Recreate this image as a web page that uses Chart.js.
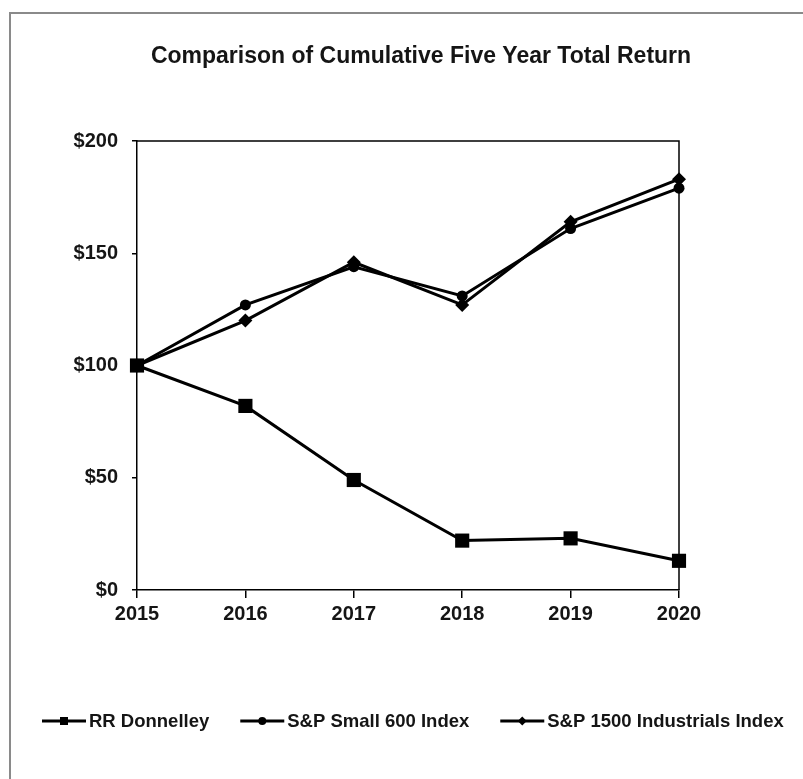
<!DOCTYPE html>
<html>
<head>
<meta charset="utf-8">
<script src="https://cdn.jsdelivr.net/npm/chart.js@4.4.0/dist/chart.umd.min.js"></script>
<style>
    html, body { margin: 0; padding: 0; background: #fff; }
    #wrap { width: 803px; height: 779px; position: relative; }
</style>
</head>
<body>
<div id="wrap"><canvas id="myChart" width="803" height="779"></canvas></div>
<script>
// data
var years = ['2015', '2016', '2017', '2018', '2019', '2020'];
var rrDonnelley = [100, 82, 49, 22, 23, 13];
var spSmall600 = [100, 127, 144, 131, 161, 179];
var sp1500Industrials = [100, 120, 146, 127, 164, 183];
var yMin = 0, yMax = 200, yStep = 50;
var titleText = 'Comparison of Cumulative Five Year Total Return';
var seriesNames = ['RR Donnelley', 'S&P Small 600 Index', 'S&P 1500 Industrials Index'];

var FONT = '"Liberation Sans", Arial, sans-serif';

function markerPath(c, style, x, y, r) {
    c.beginPath();
    if (style === 'rect') {
        c.rect(x - r, y - r, 2 * r, 2 * r);
    } else if (style === 'circle') {
        c.arc(x, y, r, 0, Math.PI * 2);
    } else {
        c.moveTo(x, y - r); c.lineTo(x + r, y); c.lineTo(x, y + r); c.lineTo(x - r, y); c.closePath();
    }
    c.fill();
}

// frame, plot box, title and legend
var decorations = {
    id: 'decorations',
    beforeDatasetsDraw: function (chart) {
        var c = chart.ctx, a = chart.chartArea;
        c.save();
        c.strokeStyle = '#000';
        c.lineWidth = 1.5;
        c.beginPath();
        c.moveTo(a.left, a.top);
        c.lineTo(a.right, a.top);
        c.lineTo(a.right, a.bottom);
        c.stroke();
        c.restore();
    },
    afterDraw: function (chart) {
        var c = chart.ctx;
        c.save();
        // outer border of the picture
        c.strokeStyle = '#8a8a8a';
        c.lineWidth = 2;
        c.beginPath();
        c.moveTo(10, 779); c.lineTo(10, 13); c.lineTo(803, 13);
        c.stroke();

        // title
        c.fillStyle = '#151515';
        c.font = 'bold 23px ' + FONT;
        c.textAlign = 'center';
        c.textBaseline = 'middle';
        c.fillText(titleText, 421, 57);

        // legend: line + marker, then label
        var styles = ['rect', 'circle', 'diamond'];
        var sizes = [4, 4, 4.5];
        var x = 42, y = 721;
        c.font = 'bold 18.5px ' + FONT;
        c.textAlign = 'left';
        chart.data.datasets.forEach(function (ds, i) {
            c.strokeStyle = '#000';
            c.lineWidth = 3;
            c.beginPath();
            c.moveTo(x, y); c.lineTo(x + 44, y);
            c.stroke();
            c.fillStyle = '#000';
            markerPath(c, styles[i], x + 22, y, sizes[i]);
            c.fillStyle = '#151515';
            c.fillText(ds.label, x + 47, y + 1);
            x += 47 + c.measureText(ds.label).width + 31;
        });
        c.restore();
    }
};

var dts = [
    {
        label: seriesNames[0],
        data: rrDonnelley,
        borderColor: '#000',
        backgroundColor: '#000',
        borderWidth: 3,
        pointStyle: 'rect',
        pointRadius: 10,
        pointBorderWidth: 0
    },
    {
        label: seriesNames[1],
        data: spSmall600,
        borderColor: '#000',
        backgroundColor: '#000',
        borderWidth: 3,
        pointStyle: 'circle',
        pointRadius: 5.5,
        pointBorderWidth: 0
    },
    {
        label: seriesNames[2],
        data: sp1500Industrials,
        borderColor: '#000',
        backgroundColor: '#000',
        borderWidth: 3,
        pointStyle: 'rectRot',
        pointRadius: 7,
        pointBorderWidth: 0
    }
];

var tickFont = { family: FONT, size: 20, weight: 'bold' };

var ctx = document.getElementById('myChart').getContext('2d');
var mychart = new Chart(ctx, {
    type: 'line',
    data: { labels: years, datasets: dts },
    options: {
        responsive: false,
        animation: false,
        clip: false,
        layout: { padding: { left: 40, right: 124, top: 141, bottom: 129 } },
        plugins: {
            legend: { display: false },
            title: { display: false },
            tooltip: { enabled: false }
        },
        elements: { line: { tension: 0, fill: false } },
        scales: {
            x: {
                type: 'category',
                offset: false,
                grid: { drawOnChartArea: false, tickLength: 8, color: '#000', lineWidth: 1.5 },
                border: { color: '#000', width: 1.5 },
                ticks: { color: '#151515', font: tickFont, padding: 4, maxRotation: 0 },
                afterFit: function (s) { s.height = 60; }
            },
            y: {
                min: yMin,
                max: yMax,
                grid: { drawOnChartArea: false, tickLength: 5, color: '#000', lineWidth: 1.5 },
                border: { color: '#000', width: 1.5 },
                ticks: {
                    stepSize: yStep,
                    color: '#151515',
                    font: tickFont,
                    padding: 14,
                    callback: function (v) { return '$' + v; }
                },
                afterFit: function (s) { s.width = 97; }
            }
        }
    },
    plugins: [decorations]
});
</script>
</body>
</html>
